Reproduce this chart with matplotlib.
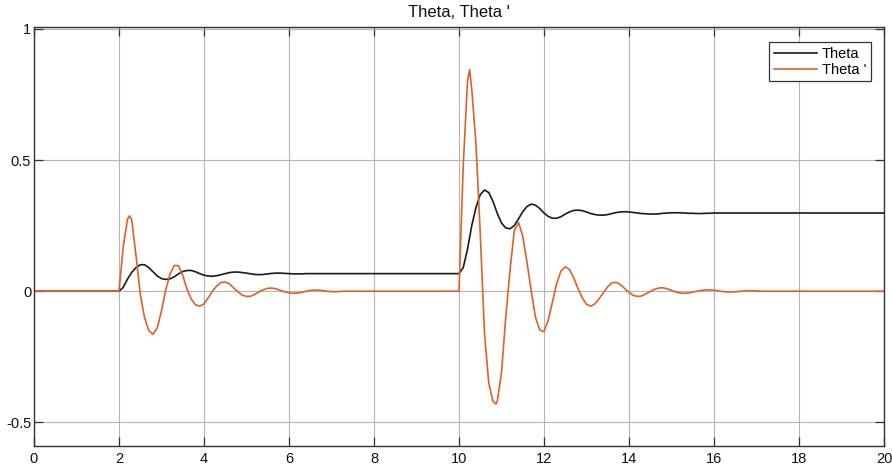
import matplotlib
matplotlib.use("Agg")
import matplotlib.pyplot as plt

plt.rcParams['font.family'] = ['Liberation Sans', 'DejaVu Sans']

# Theta (black), constant runs given by their end points
t_theta = [0.0, 2.0, 2.1, 2.2, 2.3, 2.4, 2.5, 2.6, 2.7, 2.8, 2.9,
           3.0, 3.1, 3.2, 3.3, 3.4, 3.5, 3.6, 3.7, 3.8, 3.9,
           4.0, 4.1, 4.2, 4.3, 4.4, 4.5, 4.6, 4.7, 4.8, 4.9,
           5.0, 5.1, 5.2, 5.3, 5.4, 5.5, 5.6, 5.7, 5.8, 5.9,
           6.0, 6.1, 6.2, 6.3, 6.4, 6.5, 6.6,
           10.0, 10.1, 10.2, 10.3, 10.4, 10.5, 10.6, 10.7, 10.8, 10.9,
           11.0, 11.1, 11.2, 11.3, 11.4, 11.5, 11.6, 11.7, 11.8, 11.9,
           12.0, 12.1, 12.2, 12.3, 12.4, 12.5, 12.6, 12.7, 12.8, 12.9,
           13.0, 13.1, 13.2, 13.3, 13.4, 13.5, 13.6, 13.7, 13.8, 13.9,
           14.0, 14.1, 14.2, 14.3, 14.4, 14.5, 14.6, 14.7, 14.8, 14.9,
           15.0, 15.1, 15.2, 15.3, 15.4, 15.5, 15.6, 15.7, 15.8, 15.9,
           16.0, 20.0]
theta = [0.0, 0.0, 0.015, 0.046, 0.072, 0.090, 0.101, 0.101, 0.090, 0.074, 0.058,
         0.048, 0.045, 0.047, 0.055, 0.066, 0.075, 0.079, 0.079, 0.074, 0.067,
         0.061, 0.058, 0.057, 0.059, 0.063, 0.067, 0.071, 0.073, 0.073, 0.071,
         0.069, 0.066, 0.064, 0.063, 0.064, 0.066, 0.068, 0.069, 0.069, 0.068,
         0.067, 0.066, 0.066, 0.066, 0.067, 0.067, 0.067,
         0.067, 0.090, 0.160, 0.250, 0.320, 0.368, 0.386, 0.376, 0.342, 0.297,
         0.260, 0.241, 0.238, 0.250, 0.276, 0.303, 0.323, 0.332, 0.328, 0.315,
         0.298, 0.285, 0.278, 0.278, 0.284, 0.294, 0.302, 0.308, 0.309, 0.307,
         0.302, 0.296, 0.292, 0.290, 0.290, 0.292, 0.296, 0.300, 0.302, 0.303,
         0.302, 0.300, 0.298, 0.296, 0.295, 0.294, 0.294, 0.295, 0.297, 0.298,
         0.299, 0.299, 0.299, 0.298, 0.297, 0.297, 0.296, 0.296, 0.297, 0.297,
         0.298, 0.298]

# Theta ' (orange)
t_dtheta = [0.0, 2.0, 2.1, 2.2, 2.25, 2.3, 2.4, 2.5, 2.6, 2.7, 2.8, 2.9,
            3.0, 3.1, 3.2, 3.3, 3.4, 3.5, 3.6, 3.7, 3.8, 3.9,
            4.0, 4.1, 4.2, 4.3, 4.4, 4.5, 4.6, 4.7, 4.8, 4.9,
            5.0, 5.1, 5.2, 5.3, 5.4, 5.5, 5.6, 5.7, 5.8, 5.9,
            6.0, 6.1, 6.2, 6.3, 6.4, 6.5, 6.6, 6.7, 6.8, 6.9,
            7.0, 7.1, 7.2, 7.3,
            10.0, 10.1, 10.2, 10.25, 10.3, 10.4, 10.5, 10.6, 10.7, 10.8, 10.87, 10.9,
            11.0, 11.1, 11.2, 11.3, 11.4, 11.5, 11.6, 11.7, 11.8, 11.9,
            12.0, 12.1, 12.2, 12.3, 12.4, 12.5, 12.6, 12.7, 12.8, 12.9,
            13.0, 13.1, 13.2, 13.3, 13.4, 13.5, 13.6, 13.7, 13.8, 13.9,
            14.0, 14.1, 14.2, 14.3, 14.4, 14.5, 14.6, 14.7, 14.8, 14.9,
            15.0, 15.1, 15.2, 15.3, 15.4, 15.5, 15.6, 15.7, 15.8, 15.9,
            16.0, 16.1, 16.2, 16.3, 16.4, 16.5, 16.6, 16.7, 16.8, 16.9,
            17.0, 17.1, 20.0]
dtheta = [0.0, 0.0, 0.170, 0.275, 0.287, 0.272, 0.135, -0.010, -0.100, -0.150, -0.164, -0.140,
          -0.075, 0.005, 0.065, 0.098, 0.097, 0.060, 0.008, -0.030, -0.052, -0.057,
          -0.048, -0.025, 0.000, 0.020, 0.033, 0.035, 0.028, 0.012, -0.003, -0.015,
          -0.020, -0.019, -0.012, -0.002, 0.006, 0.011, 0.012, 0.009, 0.003, -0.002,
          -0.006, -0.008, -0.007, -0.004, 0.000, 0.003, 0.004, 0.004, 0.002, 0.000,
          -0.002, -0.002, -0.001, 0.000,
          0.0, 0.480, 0.800, 0.845, 0.770, 0.560, 0.220, -0.160, -0.350, -0.420, -0.430, -0.420,
          -0.310, -0.100, 0.080, 0.230, 0.262, 0.210, 0.110, 0.000, -0.100, -0.148,
          -0.154, -0.110, -0.040, 0.030, 0.077, 0.093, 0.083, 0.050, 0.010, -0.025,
          -0.050, -0.057, -0.048, -0.028, -0.005, 0.017, 0.032, 0.034, 0.025, 0.010,
          -0.005, -0.016, -0.020, -0.018, -0.010, -0.001, 0.007, 0.012, 0.013, 0.009,
          0.003, -0.003, -0.007, -0.008, -0.007, -0.003, 0.000, 0.003, 0.005, 0.005,
          0.004, 0.001, -0.001, -0.003, -0.003, -0.002, -0.001, 0.001, 0.002, 0.002,
          0.001, 0.000, 0.000]

x_ticks = [0, 2, 4, 6, 8, 10, 12, 14, 16, 18, 20]
y_ticks = [-0.5, 0, 0.5, 1]
y_tick_labels = ["-0.5", "0", "0.5", "1"]

fig = plt.figure(figsize=(8.92, 4.66), dpi=100)
ax = fig.add_axes([34 / 892, 20 / 466, 850 / 892, 419 / 466])

ax.plot(t_theta, theta, color="#1a1a1a", lw=1.2, label="Theta")
ax.plot(t_dtheta, dtheta, color="#E0602A", lw=1.2, label="Theta '")

ax.set_xlim(0, 20)
ax.set_ylim(-0.59, 1.007)
ax.set_xticks(x_ticks)
ax.set_xticklabels([str(v) for v in x_ticks])
ax.set_yticks(y_ticks)
ax.set_yticklabels(y_tick_labels)
ax.grid(True, color="#b4b4b4", lw=0.8)
ax.set_axisbelow(True)
ax.tick_params(direction="in", length=6.5, width=0.9, color="#333333",
               top=True, right=True, labelsize=10.5, labelcolor="#111111")
ax.tick_params(axis="x", pad=4)
ax.tick_params(axis="y", pad=2)
for s in ax.spines.values():
    s.set_color("#333333"); s.set_linewidth(1.0)

ax.set_title("Theta, Theta '", fontsize=12, pad=7, color="#111111")

leg = ax.legend(loc="upper right", bbox_to_anchor=(0.9844, 0.9635), borderaxespad=0,
                fontsize=10.5, fancybox=False, framealpha=1, edgecolor="#333333",
                handlelength=3.0, handletextpad=0.3, borderpad=0.3, labelspacing=0.15)
leg.get_frame().set_linewidth(0.9)

fig.savefig("out.png", dpi=100)
